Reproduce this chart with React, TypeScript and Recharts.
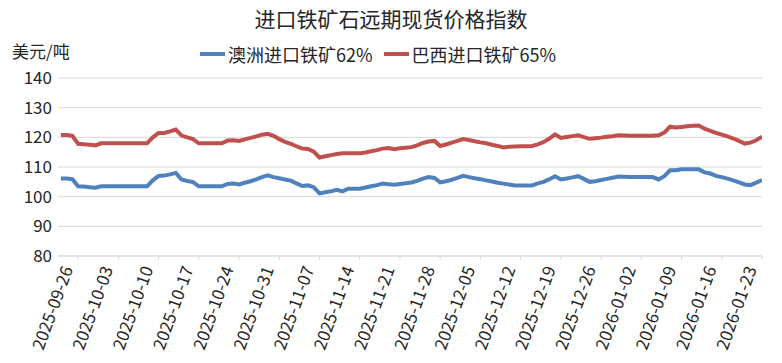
import React from 'react';
import { LineChart, Line, XAxis, YAxis, CartesianGrid, Legend } from 'recharts';

const DAY = 24 * 60 * 60 * 1000;
const FIRST_DATE = '2025-09-23';

const seriesNames = ['澳洲进口铁矿62%', '巴西进口铁矿65%'];

const tickLabels = [
  '2025-09-26', '2025-10-03', '2025-10-10', '2025-10-17', '2025-10-24', '2025-10-31',
  '2025-11-07', '2025-11-14', '2025-11-21', '2025-11-28', '2025-12-05', '2025-12-12',
  '2025-12-19', '2025-12-26', '2026-01-02', '2026-01-09', '2026-01-16', '2026-01-23'
];

const yTicks = [80, 90, 100, 110, 120, 130, 140];

// daily values from 2025-09-23
const australia62 = [
  106.1, 106.1, 105.9,
  103.5, 103.4, 103.2, 103.0,
  103.5, 103.5, 103.5, 103.5, 103.5, 103.5, 103.5, 103.5, 103.5,
  105.5, 107.0, 107.1, 107.5, 108.0,
  105.8, 105.3, 104.9,
  103.5, 103.5, 103.5, 103.5, 103.5,
  104.3, 104.4, 104.1, 104.7,
  105.2, 105.8, 106.6, 107.2,
  106.6, 106.2, 105.8, 105.4,
  104.5, 103.6, 103.8, 103.2,
  101.1, 101.5, 101.8, 102.3,
  101.8, 102.7, 102.7, 102.7,
  103.1, 103.5, 103.9, 104.4,
  104.2, 104.0, 104.3, 104.5,
  104.8, 105.3, 106.1, 106.6,
  106.3, 104.8, 105.2, 105.7,
  106.3, 107.0, 106.6, 106.2,
  105.9, 105.5, 105.1, 104.7,
  104.4, 104.1, 103.8, 103.8,
  103.8, 103.8, 104.5, 105.0,
  105.9, 106.9, 105.8, 106.1,
  106.5, 106.9, 106.0, 105.0,
  105.2, 105.6, 106.0, 106.4,
  106.8, 106.7, 106.6, 106.6,
  106.6, 106.6, 106.6, 105.8,
  106.9, 108.9, 108.9, 109.2,
  109.2, 109.2, 109.2, 108.2,
  107.8, 107.0, 106.6, 106.1,
  105.5, 104.8, 104.1, 103.9,
  104.7, 105.6
];

const brazil65 = [
  120.8, 120.8, 120.5,
  117.8, 117.7, 117.5, 117.3,
  118, 118, 118, 118, 118, 118, 118, 118, 118,
  120.0, 121.5, 121.5, 122.0, 122.6,
  120.6, 120.0, 119.4,
  118, 118, 118, 118, 118,
  118.9, 119.0, 118.8, 119.3,
  119.8, 120.3, 120.9, 121.2,
  120.5, 119.4, 118.5, 117.8,
  117.0, 116.2, 116.1, 115.2,
  113.2, 113.6, 114.0, 114.4,
  114.6, 114.6, 114.6, 114.6,
  114.9, 115.3, 115.7, 116.2,
  116.4, 116.0, 116.3, 116.5,
  116.7, 117.3, 118.1, 118.6,
  118.8, 117.1, 117.6, 118.2,
  118.8, 119.4, 119.1, 118.7,
  118.3, 118.0, 117.5, 117.1,
  116.6, 116.8, 116.9, 117.0,
  117.0, 117.1, 117.6, 118.4,
  119.6, 121.0, 119.8, 120.1,
  120.4, 120.7, 120.1, 119.5,
  119.7, 119.9, 120.2, 120.4,
  120.7, 120.6, 120.5, 120.5,
  120.5, 120.5, 120.5, 120.7,
  121.6, 123.6, 123.3, 123.5,
  123.7, 123.9, 124.0, 122.9,
  122.2, 121.5, 120.9, 120.3,
  119.6, 118.8, 117.9, 118.2,
  119.0, 120.2
];

const start = Date.parse(FIRST_DATE);
const data = australia62.map((v, i) => ({
  t: start + i * DAY,
  aus: v,
  bra: brazil65[i],
}));

const tickValues = tickLabels.map((d) => Date.parse(d));
const xDomain = [tickValues[0] - 3.5 * DAY, tickValues[tickValues.length - 1]];

const TEXT = '#262626';
const FONT = '"Noto Sans CJK SC", "Noto Sans", sans-serif';

const fmtDate = (t: number) => new Date(t).toISOString().slice(0, 10);

const DateTick = (props: any) => {
  const { x, y, payload } = props;
  return (
    <g transform={`translate(${x - 5},${y + 9})`}>
      <text x={0} y={0} transform="rotate(-70)" textAnchor="end" fontSize={17} fill={TEXT} fontFamily={FONT}>
        {fmtDate(payload.value)}
      </text>
    </g>
  );
};

const renderLegend = (props: any) => {
  // keep the series order, whatever order the legend payload comes in
  const items = [...(props.payload || [])].sort(
    (a: any, b: any) => seriesNames.indexOf(a.value) - seriesNames.indexOf(b.value)
  );
  return (
    <div style={{ display: 'flex', alignItems: 'center', fontSize: 18, lineHeight: '24px', color: TEXT, whiteSpace: 'nowrap' }}>
      {items.map((p: any) => (
        <span key={p.value} style={{ display: 'inline-flex', alignItems: 'center', marginRight: 11 }}>
          <span style={{ display: 'inline-block', width: 25, height: 4, background: p.color, marginRight: 3 }} />
          {p.value}
        </span>
      ))}
    </div>
  );
};

export default function App() {
  return (
    <div style={{ position: 'relative', width: 782, height: 363, fontFamily: FONT, color: TEXT, background: '#fff' }}>
      <style>{'body{margin:0}'}</style>
      <div style={{ position: 'absolute', top: 5, left: 0, width: 782, textAlign: 'center', fontSize: 21, lineHeight: '26px' }}>
        进口铁矿石远期现货价格指数
      </div>
      <div style={{ position: 'absolute', top: 42, left: 12, fontSize: 17, lineHeight: '18px' }}>美元/吨</div>
      <LineChart width={782} height={363} data={data} margin={{ top: 78, right: 20, bottom: 7, left: 0 }}>
        <CartesianGrid vertical={false} stroke="#d9d9d9" />
        <XAxis
          dataKey="t"
          type="number"
          domain={xDomain}
          ticks={tickValues}
          allowDataOverflow
          height={100}
          tick={<DateTick />}
          tickSize={4}
          tickMargin={0}
          interval={0}
          stroke="#d9d9d9"
        />
        <YAxis
          domain={[80, 140]}
          ticks={yTicks}
          width={58}
          axisLine={false}
          tickLine={false}
          tickSize={0}
          tickMargin={6}
          tick={{ fontSize: 17, fill: TEXT, fontFamily: FONT }}
        />
        <Legend
          layout="horizontal"
          verticalAlign="middle"
          align="center"
          content={renderLegend}
          wrapperStyle={{ top: 42, left: 200, width: 'auto' }}
        />
        <Line name={seriesNames[0]} dataKey="aus" stroke="#4f81bd" strokeWidth={4} dot={false} type="linear" isAnimationActive={false} />
        <Line name={seriesNames[1]} dataKey="bra" stroke="#c0504d" strokeWidth={4} dot={false} type="linear" isAnimationActive={false} />
      </LineChart>
    </div>
  );
}
